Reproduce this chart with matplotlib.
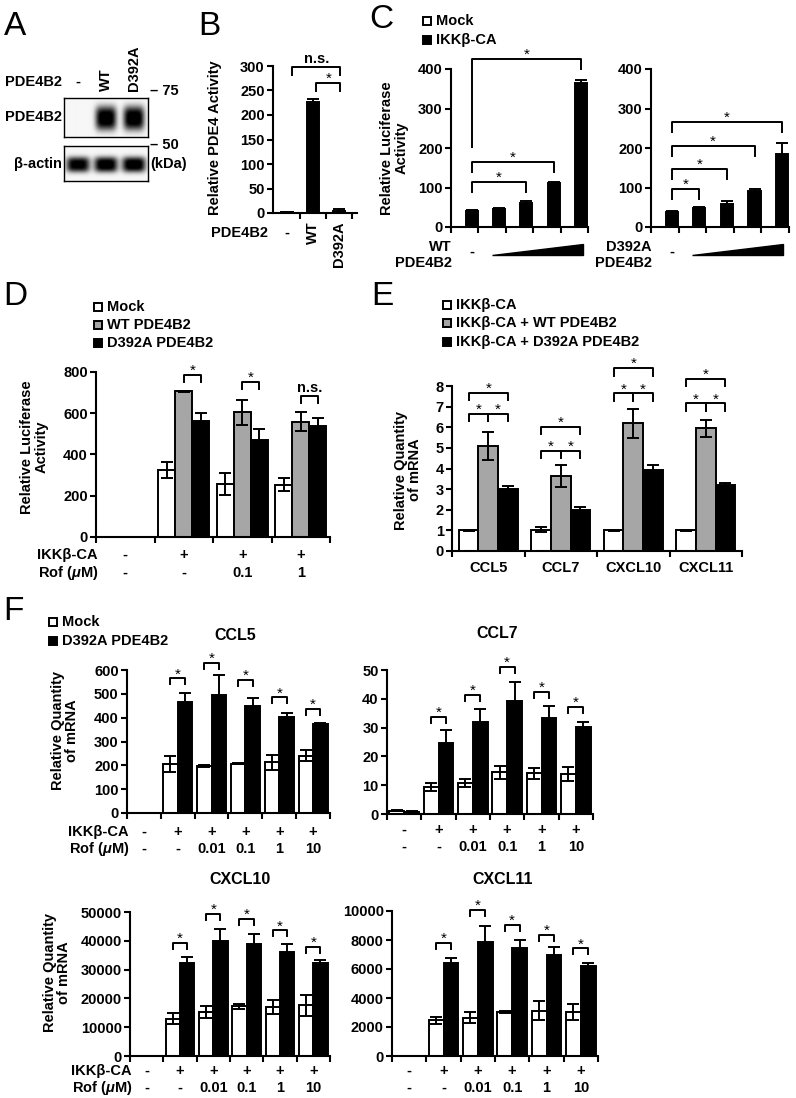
import numpy as np
import matplotlib.pyplot as plt
from matplotlib.patches import Rectangle, Polygon
from matplotlib.transforms import blended_transform_factory

plt.rcParams['font.family'] = ['Liberation Sans', 'DejaVu Sans']
plt.rcParams['font.weight'] = 'bold'
plt.rcParams['font.size'] = 10.5
plt.rcParams['mathtext.fontset'] = 'custom'
plt.rcParams['mathtext.rm'] = 'Liberation Sans:bold'
plt.rcParams['mathtext.it'] = 'Liberation Sans:italic:bold'
plt.rcParams['mathtext.bf'] = 'Liberation Sans:bold'

# A: western blot, band intensity per lane
blot_lanes = ['-', 'WT', 'D392A']
blot_pde4b2 = [0.0, 1.0, 1.0]
blot_actin = [0.95, 1.0, 1.0]

# B: PDE4 activity
b_labels = ['-', 'WT', 'D392A']
b_vals = [2, 227, 4]
b_errs = [1, 6, 5]

# C: luciferase, increasing PDE4B2
c_mock_wt = [1, 1, 1, 1, 1]
c_ikk_wt = [41, 46, 62, 111, 364]
c_ikk_wt_err = [2, 2, 3, 2, 8]
c_mock_mut = [1, 1, 1, 1, 1]
c_ikk_mut = [38, 49, 57, 91, 186]
c_ikk_mut_err = [2, 2, 9, 6, 26]
# (from, to, top, left leg end, right leg end)
c_wt_brk = [(0, 2, 114, 89, 89), (0, 3, 164, 139, 139), (0, 4, 425, 203, 400)]
c_mut_brk = [(0, 1, 96, 71, 71), (0, 2, 147, 122, 122), (0, 3, 205, 180, 180), (0, 4, 266, 241, 241)]

# D: luciferase with rolipram
d_ikk = ['-', '+', '+', '+']
d_rof = ['-', '-', '0.1', '1']
d_mock = [2, 325, 258, 253]
d_mock_err = [0, 40, 52, 32]
d_wt = [2, 707, 605, 559]
d_wt_err = [0, 3, 60, 45]
d_mut = [2, 563, 470, 538]
d_mut_err = [0, 39, 53, 37]
d_brk = [None, 787, 752, 683]
d_brk_lab = [None, '*', '*', 'n.s.']

# E: chemokine mRNA
e_genes = ['CCL5', 'CCL7', 'CXCL10', 'CXCL11']
e_ca = [1.0, 1.04, 1.0, 1.0]
e_ca_err = [0.02, 0.13, 0.02, 0.01]
e_wt = [5.08, 3.64, 6.19, 5.94]
e_wt_err = [0.68, 0.55, 0.71, 0.41]
e_mut = [3.03, 1.98, 3.95, 3.19]
e_mut_err = [0.14, 0.16, 0.2, 0.1]
e_brk_low = [6.64, 4.86, 7.64, 7.16]
e_brk_high = [7.68, 6.02, 8.86, 8.34]

# F: chemokine mRNA with rolipram
f_ikk = ['-', '+', '+', '+', '+', '+']
f_rof = ['-', '-', '0.01', '0.1', '1', '10']

ccl5_mock = [0, 207, 198, 207, 212, 240]
ccl5_mock_err = [0, 34, 4, 3, 30, 23]
ccl5_mut = [0, 467, 495, 449, 401, 373]
ccl5_mut_err = [0, 35, 84, 32, 20, 3]
ccl5_brk = [None, 565, 631, 558, 485, 436]

ccl7_mock = [1.2, 9.3, 10.8, 14.5, 14.1, 13.8]
ccl7_mock_err = [0.3, 1.4, 1.5, 2.3, 2.0, 2.5]
ccl7_mut = [0.8, 24.7, 32.0, 39.2, 33.3, 30.2]
ccl7_mut_err = [0.2, 4.5, 4.5, 6.6, 4.2, 1.8]
ccl7_brk = [None, 33.8, 41.3, 51.0, 42.4, 37.1]

cxcl10_mock = [0, 12960, 15300, 17200, 17000, 17600]
cxcl10_mock_err = [0, 1900, 2000, 900, 2300, 3600]
cxcl10_mut = [0, 32300, 39900, 39000, 36100, 32300]
cxcl10_mut_err = [0, 2100, 4300, 3500, 2900, 1100]
cxcl10_brk = [None, 39200, 49400, 47700, 43600, 37800]

cxcl11_mock = [0, 2470, 2650, 3040, 3110, 3040]
cxcl11_mock_err = [0, 250, 390, 50, 650, 550]
cxcl11_mut = [0, 6380, 7830, 7420, 7000, 6200]
cxcl11_mut_err = [0, 390, 1160, 580, 490, 230]
cxcl11_brk = [None, 7810, 10070, 9030, 8340, 7420]

ROF = r'Rof ($\mathit{\mu}$M)'
FS = 10.5

W, H = 796, 1098
fig = plt.figure(figsize=(W / 100, H / 100), dpi=100)


def fx(x):
    return x / W


def fy(y):
    return 1 - y / H


def add_box(x0, y0, x1, y1):
    return fig.add_axes([fx(x0), fy(y1), (x1 - x0) / W, (y1 - y0) / H])


def ftext(x, y, s, **kw):
    kw.setdefault('fontsize', FS)
    return fig.text(fx(x), fy(y), s, **kw)


def style(ax, n, ymax, yticks, lo=-0.5, hi=None):
    hi = n - 0.5 if hi is None else hi
    ax.set_xlim(lo, hi)
    ax.set_ylim(0, ymax)
    ax.set_yticks(yticks)
    ax.set_xticks(np.arange(n + 1) - 0.5)
    ax.set_xticklabels([])
    for s in ('top', 'right'):
        ax.spines[s].set_visible(False)
    for s in ('left', 'bottom'):
        ax.spines[s].set_linewidth(1.5)
    ax.tick_params(direction='out', length=4, width=1.5, labelsize=FS, pad=2)
    ax.patch.set_alpha(0)


def bars(ax, x, vals, errs, color, width):
    ax.bar(x, vals, width, color=color, edgecolor='black', linewidth=1.4, zorder=2)
    ax.errorbar(x, vals, yerr=errs, fmt='none', ecolor='black', elinewidth=1.4,
                capsize=4, capthick=1.4, zorder=3)


def bracket(ax, x1, x2, y, l1, l2, label):
    ax.plot([x1, x1, x2, x2], [l1, y, y, l2], color='black', lw=1.4,
            clip_on=False, zorder=4)
    star = label == '*'
    ax.annotate(label, ((x1 + x2) / 2, y), xytext=(0, 0 if star else 3),
                textcoords='offset points', ha='center', va='baseline',
                fontsize=11 if star else FS, fontweight='normal' if star else 'bold',
                annotation_clip=False)


def per_px(ax, ymax):
    return ymax / (ax.get_position().height * H)


def row(ax, y, labels, **kw):
    tr = blended_transform_factory(ax.transData, fig.transFigure)
    for i, s in enumerate(labels):
        ax.text(i, fy(y), s, transform=tr, ha='center', va='center', fontsize=FS, **kw)


def legend(x, ys, labels, colors):
    for y, lab, c in zip(ys, labels, colors):
        fig.add_artist(Rectangle((fx(x - 4), fy(y + 4)), 8 / W, 8 / H,
                                 transform=fig.transFigure, facecolor=c,
                                 edgecolor='black', lw=1.4))
        ftext(x + 9, y, lab, va='center', ha='left')


def ylab(x, y, s):
    ftext(x, y, s, rotation=90, ha='center', va='center', linespacing=1.05)


# panel letters
for s, x, y in [('A', 4, 11), ('B', 198, 11), ('C', 369, 4),
                ('D', 3, 281), ('E', 371, 281), ('F', 3, 596)]:
    ftext(x, y, s, fontsize=24, fontweight='normal', va='top', ha='left')

# ---------------- A
lane_cx = (np.arange(len(blot_lanes)) + 0.5) / len(blot_lanes)


def blot(ax, intens, hw, hh):
    X, Y = np.meshgrid(np.linspace(0, 1, 240), np.linspace(0, 1, 120))
    img = np.zeros_like(X)
    for cx, a in zip(lane_cx, intens):
        img += a * np.exp(-np.abs((X - cx) / hw) ** 4) * np.exp(-np.abs((Y - 0.53) / hh) ** 3)
    ax.imshow(img, cmap='gray_r', vmin=-0.03, vmax=0.9, extent=(0, 1, 1, 0),
              aspect='auto', interpolation='bilinear')
    ax.set_xlim(0, 1)
    ax.set_ylim(1, 0)
    ax.set_xticks([])
    ax.set_yticks([])
    for sp in ax.spines.values():
        sp.set_linewidth(1.0)


ax_a1 = add_box(64, 98, 148, 137)
blot(ax_a1, blot_pde4b2, 0.125, 0.3)
ax_a2 = add_box(64, 146, 148, 181)
blot(ax_a2, blot_actin, 0.14, 0.22)
ftext(62, 82, 'PDE4B2', ha='right', va='center')
for cx, s in zip(lane_cx, blot_lanes):
    if s == '-':
        ftext(64 + cx * 84, 82, s, ha='center', va='center')
    else:
        ftext(64 + cx * 84, 91, s, ha='center', va='bottom', rotation=90)
ftext(62, 117, 'PDE4B2', ha='right', va='center')
ftext(62, 164, 'β-actin', ha='right', va='center')
ftext(150, 91, '– 75', ha='left', va='center')
ftext(150, 145, '– 50', ha='left', va='center')
ftext(150, 164, '(kDa)', ha='left', va='center')

# ---------------- B
ax_b = add_box(273, 66, 357, 213)
style(ax_b, 3, 300, range(0, 301, 50), lo=-0.54, hi=2.69)
ax_b.set_xticks([0.5, 1.5, 2.5])
bars(ax_b, np.arange(3), b_vals, b_errs, 'black', 0.43)
u = per_px(ax_b, 300)
bracket(ax_b, 0.2, 2.05, 298, 298 - 8 * u, 298 - 8 * u, 'n.s.')
bracket(ax_b, 1.12, 2.05, 265, 265 - 8 * u, 265 - 8 * u, '*')
ylab(215, 138, 'Relative PDE4 Activity')
ftext(268, 233, 'PDE4B2', ha='right', va='center')
tr = blended_transform_factory(ax_b.transData, fig.transFigure)
for i, s in enumerate(b_labels):
    if s == '-':
        ax_b.text(i, fy(233), s, transform=tr, ha='center', va='center', fontsize=FS)
    else:
        ax_b.text(i, fy(221), s, transform=tr, ha='center', va='top', rotation=90,
                  fontsize=FS)

# ---------------- C
legend(427, [21, 40], ['Mock', 'IKKβ-CA'], ['white', 'black'])
ylab(394, 148, 'Relative Luciferase\nActivity')
for box, mock, ikk, err, brks, lab in [
        ((451, 69, 588, 227), c_mock_wt, c_ikk_wt, c_ikk_wt_err, c_wt_brk, 'WT'),
        ((651, 69, 789, 227), c_mock_mut, c_ikk_mut, c_ikk_mut_err, c_mut_brk, 'D392A')]:
    ax = add_box(*box)
    style(ax, 5, 400, range(0, 401, 100))
    x = np.arange(5)
    bars(ax, x - 0.22, mock, [0] * 5, 'white', 0.44)
    bars(ax, x + 0.25, ikk, err, 'black', 0.44)
    for i0, i1, top, l1, l2 in brks:
        bracket(ax, i0 + 0.25, i1 + 0.25, top, l1, l2, '*')
    ftext(box[0] + 1, 247, lab, ha='right', va='center')
    ftext(box[0] + 1, 263, 'PDE4B2', ha='right', va='center')
    tr = blended_transform_factory(ax.transData, fig.transFigure)
    ax.text(0.25, fy(252), '-', transform=tr, ha='center', va='center', fontsize=FS)
    ax.add_patch(Polygon([(1.0, fy(255)), (4.3, fy(255)), (4.3, fy(244))],
                         closed=True, transform=tr, facecolor='black',
                         edgecolor='black', clip_on=False))

# ---------------- D
legend(98, [307, 325, 343], ['Mock', 'WT PDE4B2', 'D392A PDE4B2'],
       ['white', '#a6a6a6', 'black'])
ax_d = add_box(96, 372, 330, 537)
style(ax_d, 4, 800, range(0, 801, 200))
x = np.arange(4)
bars(ax_d, x - 0.29, d_mock, d_mock_err, 'white', 0.29)
bars(ax_d, x, d_wt, d_wt_err, '#a6a6a6', 0.29)
bars(ax_d, x + 0.29, d_mut, d_mut_err, 'black', 0.29)
u = per_px(ax_d, 800)
for i, (b, lab) in enumerate(zip(d_brk, d_brk_lab)):
    if b is not None:
        bracket(ax_d, i, i + 0.29, b, b - 7 * u, b - 7 * u, lab)
ylab(34, 447, 'Relative Luciferase\nActivity')
ftext(98, 555, 'IKKβ-CA', ha='right', va='center')
ftext(98, 573, ROF, ha='right', va='center')
row(ax_d, 555, d_ikk)
row(ax_d, 573, d_rof)

# ---------------- E
legend(447, [305, 323, 342],
       ['IKKβ-CA', 'IKKβ-CA + WT PDE4B2', 'IKKβ-CA + D392A PDE4B2'],
       ['white', '#a6a6a6', 'black'])
ax_e = add_box(452, 386, 742, 551)
style(ax_e, 4, 8, range(9))
x = np.arange(4)
w = 0.27
bars(ax_e, x - w, e_ca, e_ca_err, 'white', w)
bars(ax_e, x, e_wt, e_wt_err, '#a6a6a6', w)
bars(ax_e, x + w, e_mut, e_mut_err, 'black', w)
lg = 0.36
for i in range(4):
    lo, hi = e_brk_low[i], e_brk_high[i]
    bracket(ax_e, i - w, i, lo, lo - lg, lo - lg, '*')
    bracket(ax_e, i, i + w, lo, lo - lg, lo - lg, '*')
    bracket(ax_e, i - w, i + w, hi, hi - lg, hi - lg, '*')
row(ax_e, 568, e_genes)
ylab(408, 470, 'Relative Quantity\nof mRNA')

# ---------------- F
legend(53, [622, 641], ['Mock', 'D392A PDE4B2'], ['white', 'black'])


def f_panel(box, ymax, yticks, mock, mock_err, mut, mut_err, brk, title, title_xy,
            rows_y, left_labels):
    ax = add_box(*box)
    style(ax, 6, ymax, yticks)
    x = np.arange(6)
    bars(ax, x - 0.215, mock, mock_err, 'white', 0.43)
    bars(ax, x + 0.215, mut, mut_err, 'black', 0.43)
    u = per_px(ax, ymax)
    for i, b in enumerate(brk):
        if b is not None:
            bracket(ax, i - 0.215, i + 0.215, b, b - 6 * u, b - 6 * u, '*')
    ftext(title_xy[0], title_xy[1], title, ha='center', va='center', fontsize=11.5)
    row(ax, rows_y[0], f_ikk)
    row(ax, rows_y[1], f_rof)
    if left_labels:
        ftext(box[0] + 2, rows_y[0], 'IKKβ-CA', ha='right', va='center')
        ftext(box[0] + 2, rows_y[1], ROF, ha='right', va='center')
    return ax


f_panel((127, 670, 330, 813), 600, range(0, 601, 100), ccl5_mock, ccl5_mock_err,
        ccl5_mut, ccl5_mut_err, ccl5_brk, 'CCL5', (235, 635), (832, 849), True)
f_panel((387, 670, 593, 814), 50, range(0, 51, 10), ccl7_mock, ccl7_mock_err,
        ccl7_mut, ccl7_mut_err, ccl7_brk, 'CCL7', (497, 633), (830, 847), False)
f_panel((130, 912, 330, 1056), 50000, range(0, 50001, 10000), cxcl10_mock, cxcl10_mock_err,
        cxcl10_mut, cxcl10_mut_err, cxcl10_brk, 'CXCL10', (240, 880), (1071, 1088), True)
f_panel((392, 911, 598, 1056), 10000, range(0, 10001, 2000), cxcl11_mock, cxcl11_mock_err,
        cxcl11_mut, cxcl11_mut_err, cxcl11_brk, 'CXCL11', (503, 880), (1071, 1088), False)
ylab(65, 731, 'Relative Quantity\nof mRNA')
ylab(57, 973, 'Relative Quantity\nof mRNA')

fig.savefig('out.png', dpi=100)
